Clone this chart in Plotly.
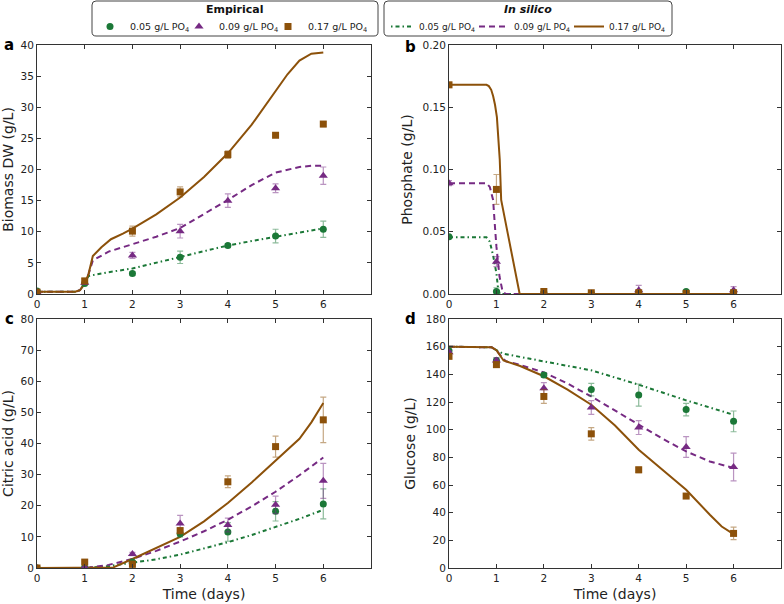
import plotly.graph_objects as go

# ---------------- data ----------------
days = [0, 1, 2, 3, 4, 5, 6]
x_tick_vals = [0, 1, 2, 3, 4, 5, 6]
series_names = ["0.05 g/L PO<sub>4</sub>", "0.09 g/L PO<sub>4</sub>", "0.17 g/L PO<sub>4</sub>"]

# Empirical: biomass (g/L)
biomass_005 = [0.5, 1.7, 3.3, 5.9, 7.8, 9.3, 10.4]
biomass_005_err = [0.1, 0.2, 0.3, 1.0, 0.3, 1.1, 1.3]
biomass_009 = [0.3, 1.8, 6.2, 10.1, 15.0, 17.0, 19.0]
biomass_009_err = [0.1, 0.2, 0.5, 1.1, 1.1, 0.7, 1.4]
biomass_017 = [0.3, 2.1, 10.1, 16.4, 22.4, 25.5, 27.3]
biomass_017_err = [0.1, 0.4, 0.8, 0.8, 0.6, 0.2, 0.4]

# Empirical: phosphate (g/L)
phosphate_005 = [0.046, 0.002, 0.001, 0.0005, 0.001, 0.002, 0.0005]
phosphate_005_err = [0.001, 0.003, 0.001, 0.0005, 0.001, 0.001, 0.0005]
phosphate_009 = [0.089, 0.026, 0.001, 0.0005, 0.003, 0.0005, 0.003]
phosphate_009_err = [0.002, 0.004, 0.001, 0.0005, 0.004, 0.0005, 0.003]
phosphate_017 = [0.168, 0.084, 0.002, 0.001, 0.001, 0.0005, 0.001]
phosphate_017_err = [0.002, 0.012, 0.002, 0.001, 0.001, 0.0005, 0.002]

# Empirical: citric acid (g/L)
citric_005 = [0, 0.2, 1.9, 11.0, 11.6, 18.2, 20.6]
citric_005_err = [0.1, 0.2, 0.5, 1.0, 3.0, 3.1, 4.8]
citric_009 = [0, 0.2, 4.5, 14.3, 13.8, 20.3, 28.0]
citric_009_err = [0.1, 0.2, 0.5, 2.6, 2.2, 2.8, 5.6]
citric_017 = [0, 1.9, 1.2, 12.0, 27.7, 39.0, 47.6]
citric_017_err = [0.1, 0.3, 1.0, 1.0, 1.9, 3.4, 7.3]

# Empirical: glucose (g/L)
glucose_005 = [157, 150, 139.5, 129, 125, 114.5, 106]
glucose_005_err = [1, 2, 1.5, 4.5, 8, 4.5, 7.5]
glucose_009 = [156, 150, 130, 116, 101.5, 87.5, 73]
glucose_009_err = [1, 2, 4, 5, 5, 7.5, 10]
glucose_017 = [153, 147, 124, 97, 71, 52, 25]
glucose_017_err = [1.5, 2, 5, 4.5, 2, 1, 4.5]

# In silico: biomass
sim_bio_t_005 = [0, 0.8, 0.9, 1.0, 1.08, 1.17, 1.5, 2.0, 2.5, 3.0, 3.5, 4.0, 4.5, 5.0, 5.5, 6.0]
sim_bio_005 = [0.35, 0.35, 0.6, 1.7, 2.9, 3.05, 3.5, 4.1, 5.0, 5.9, 6.9, 7.8, 8.5, 9.2, 9.9, 10.55]
sim_bio_t_009 = [0, 0.8, 0.9, 1.0, 1.08, 1.17, 1.5, 2.0, 2.5, 3.0, 3.5, 4.0, 4.5, 5.0, 5.5, 5.75, 6.0]
sim_bio_009 = [0.35, 0.35, 0.6, 1.7, 3.2, 5.4, 6.8, 8.0, 9.2, 10.6, 12.8, 15.1, 17.5, 19.5, 20.4, 20.6, 20.6]
sim_bio_t_017 = [0, 0.8, 0.9, 1.0, 1.08, 1.17, 1.35, 1.55, 1.8, 2.0, 2.5, 3.0, 3.5, 4.0, 4.5, 5.0, 5.25, 5.5, 5.75, 6.0]
sim_bio_017 = [0.35, 0.35, 0.6, 1.7, 3.2, 6.1, 7.5, 8.8, 9.7, 10.5, 12.8, 15.5, 18.8, 22.6, 27.2, 32.6, 35.3, 37.5, 38.6, 38.8]

# In silico: phosphate
sim_pho_t_005 = [0, 0.79, 0.86, 0.93, 1.0, 1.03, 1.07, 6.0]
sim_pho_005 = [0.0455, 0.0455, 0.042, 0.031, 0.0166, 0.006, 0, 0]
sim_pho_t_009 = [0, 0.79, 0.86, 0.93, 0.96, 1.0, 1.065, 1.13, 1.2, 6.0]
sim_pho_009 = [0.089, 0.089, 0.086, 0.0755, 0.059, 0.038, 0.014, 0.002, 0, 0]
sim_pho_t_017 = [0, 0.79, 0.84, 0.89, 0.93, 0.97, 1.01, 1.04, 1.07, 1.10, 1.49, 6.0]
sim_pho_017 = [0.168, 0.168, 0.167, 0.164, 0.159, 0.152, 0.142, 0.128, 0.108, 0.0755, 0, 0]

# In silico: citric acid
sim_cit_t = [0, 1.0, 1.5, 2.0, 2.5, 3.0, 3.5, 4.0, 4.5, 5.0, 5.5, 6.0]
sim_cit_005 = [0, 0, 0.6, 1.6, 2.8, 4.3, 6.2, 8.3, 10.6, 13.1, 15.8, 18.7]
sim_cit_009 = [0, 0, 1.0, 2.9, 5.5, 8.5, 11.8, 15.5, 19.8, 24.5, 29.8, 35.5]
sim_cit_t_017 = [0, 1.0, 1.6, 2.0, 2.5, 3.0, 3.5, 4.0, 4.5, 5.0, 5.5, 5.75, 6.0]
sim_cit_017 = [0, 0, 0.2, 2.9, 6.4, 10.0, 15.0, 20.9, 27.5, 34.4, 41.5, 46.8, 53.0]

# In silico: glucose
sim_glc_t_005 = [0, 0.8, 0.9, 1.0, 1.13, 1.5, 2.0, 3.0, 4.0, 5.0, 6.0]
sim_glc_005 = [160, 160, 159.5, 157.5, 155, 152.6, 149.4, 142.9, 132.5, 121.2, 110.8]
sim_glc_t_009 = [0, 0.8, 0.9, 1.0, 1.1, 1.2, 1.5, 2.0, 2.5, 3.0, 3.5, 4.0, 4.5, 5.0, 5.5, 6.0]
sim_glc_009 = [160, 160, 159.5, 157.5, 153, 149.4, 146.8, 141.4, 133.3, 124, 114, 103.6, 93.5, 84.3, 77, 72.3]
sim_glc_t_017 = [0, 0.8, 0.9, 1.0, 1.1, 1.15, 1.5, 2.0, 2.5, 3.0, 3.5, 4.0, 4.5, 5.0, 5.5, 5.75, 6.0]
sim_glc_017 = [160, 160, 159.5, 157.5, 153, 150, 146, 138.6, 129, 118, 103, 85.5, 71, 56.6, 38.5, 30, 24.5]

# ---------------- styles ----------------
colors = ["#1b7837", "#762a83", "#8c510a"]
err_colors = ["rgba(27,120,55,0.5)", "rgba(118,42,131,0.5)", "rgba(140,81,10,0.5)"]
symbols = ["circle", "triangle-up", "square"]
msizes = [7, 8, 7]
dashes = ["4px,3px,1.5px,3px", "6px,4px", "solid"]
FONT = "DejaVu Sans"

fig = go.Figure()

panels = [
    ("", [biomass_005, biomass_009, biomass_017], [biomass_005_err, biomass_009_err, biomass_017_err],
     [(sim_bio_t_005, sim_bio_005), (sim_bio_t_009, sim_bio_009), (sim_bio_t_017, sim_bio_017)]),
    ("2", [phosphate_005, phosphate_009, phosphate_017], [phosphate_005_err, phosphate_009_err, phosphate_017_err],
     [(sim_pho_t_005, sim_pho_005), (sim_pho_t_009, sim_pho_009), (sim_pho_t_017, sim_pho_017)]),
    ("3", [citric_005, citric_009, citric_017], [citric_005_err, citric_009_err, citric_017_err],
     [(sim_cit_t, sim_cit_005), (sim_cit_t, sim_cit_009), (sim_cit_t_017, sim_cit_017)]),
    ("4", [glucose_005, glucose_009, glucose_017], [glucose_005_err, glucose_009_err, glucose_017_err],
     [(sim_glc_t_005, sim_glc_005), (sim_glc_t_009, sim_glc_009), (sim_glc_t_017, sim_glc_017)]),
]

for pi, (suffix, emp, errs, sims) in enumerate(panels):
    xa = "x" + suffix
    ya = "y" + suffix
    for i in range(3):
        st, sv = sims[i]
        fig.add_trace(go.Scatter(
            x=st, y=sv, mode="lines", xaxis=xa, yaxis=ya,
            line=dict(color=colors[i], width=2, dash=dashes[i]),
            name=series_names[i], legend="legend2", showlegend=(pi == 0),
        ))
    for i in range(3):
        fig.add_trace(go.Scatter(
            x=days, y=emp[i], mode="markers", xaxis=xa, yaxis=ya,
            marker=dict(color=colors[i], symbol=symbols[i], size=msizes[i], line=dict(width=0)),
            error_y=dict(type="data", array=errs[i], color=err_colors[i], thickness=1.2, width=3),
            name=series_names[i], legend="legend", showlegend=(pi == 0),
        ))

W, H = 784, 604
xdom_left = [37 / W, 371 / W]
xdom_right = [449 / W, 781 / W]
ydom_top = [1 - 294 / H, 1 - 45 / H]
ydom_bot = [1 - 568 / H, 1 - 319 / H]

def xax(domain, anchor, title=None):
    d = dict(domain=domain, anchor=anchor, range=[0, 7], tickvals=x_tick_vals,
             ticks="inside", ticklen=4, tickcolor="#333", showline=True, linecolor="#333",
             linewidth=1, mirror="ticks", showgrid=False, zeroline=False,
             tickfont=dict(size=10.5, color="#222", family=FONT), automargin=False)
    if title:
        d["title"] = dict(text=title, font=dict(size=14, color="#222", family=FONT), standoff=6)
    return d

def yax(domain, anchor, rng, dtick, title, fmt=None):
    d = dict(domain=domain, anchor=anchor, range=rng, dtick=dtick, tick0=0,
             ticks="inside", ticklen=4, tickcolor="#333", showline=True, linecolor="#333",
             linewidth=1, mirror="ticks", showgrid=False, zeroline=False,
             tickfont=dict(size=10.5, color="#222", family=FONT), automargin=False,
             title=dict(text=title, font=dict(size=14, color="#222", family=FONT), standoff=6))
    if fmt:
        d["tickformat"] = fmt
    return d

# legend frames (pixel coords): left, right, top, bottom
box_emp = (92, 378, 1, 36)
box_sil = (384, 672, 1, 36)

legend_common = dict(
    orientation="h", y=1 - 12 / H, xanchor="left", yanchor="top",
    borderwidth=0, bgcolor="rgba(0,0,0,0)",
    itemwidth=30, indentation=-10, entrywidthmode="pixels",
)

fig.update_layout(
    width=W, height=H,
    margin=dict(l=0, r=0, t=0, b=0),
    paper_bgcolor="white", plot_bgcolor="white",
    font=dict(family=FONT, color="#222"),
    xaxis=xax(xdom_left, "y"),
    yaxis=yax(ydom_top, "x", [0, 40], 5, "Biomass DW (g/L)"),
    xaxis2=xax(xdom_right, "y2"),
    yaxis2=yax(ydom_top, "x2", [0, 0.2], 0.05, "Phosphate (g/L)", ".2f"),
    xaxis3=xax(xdom_left, "y3", "Time (days)"),
    yaxis3=yax(ydom_bot, "x3", [0, 80], 10, "Citric acid (g/L)"),
    xaxis4=xax(xdom_right, "y4", "Time (days)"),
    yaxis4=yax(ydom_bot, "x4", [0, 180], 20, "Glucose (g/L)"),
    legend=dict(x=(box_emp[0] + 8) / W, entrywidth=54,
                font=dict(size=9.5, family=FONT, color="#222"), **legend_common),
    legend2=dict(x=(box_sil[0] + 5) / W, entrywidth=60,
                 font=dict(size=9, family=FONT, color="#222"), **legend_common),
)

def rounded_box(l, r, t, b, rad=4):
    X = lambda v: v / W
    Y = lambda v: 1 - v / H
    return ("M %f,%f L %f,%f Q %f,%f %f,%f L %f,%f Q %f,%f %f,%f L %f,%f Q %f,%f %f,%f "
            "L %f,%f Q %f,%f %f,%f Z") % (
        X(l + rad), Y(t), X(r - rad), Y(t), X(r), Y(t), X(r), Y(t + rad),
        X(r), Y(b - rad), X(r), Y(b), X(r - rad), Y(b),
        X(l + rad), Y(b), X(l), Y(b), X(l), Y(b - rad),
        X(l), Y(t + rad), X(l), Y(t), X(l + rad), Y(t))

for bx in (box_emp, box_sil):
    fig.add_shape(type="path", path=rounded_box(*bx), xref="paper", yref="paper",
                  line=dict(color="#444", width=1), fillcolor="rgba(0,0,0,0)", layer="above")

legend_titles = [("<b>Empirical</b>", box_emp), ("<b><i>In silico</i></b>", box_sil)]
for txt, bx in legend_titles:
    fig.add_annotation(text=txt, x=(bx[0] + bx[1]) / 2 / W, y=1 - 10 / H, xref="paper", yref="paper",
                       showarrow=False, font=dict(size=11, family=FONT, color="#111"),
                       xanchor="center", yanchor="middle")

letters = [("a", 9, 45), ("b", 410, 47), ("c", 9, 319), ("d", 410, 319)]
for txt, px, py in letters:
    fig.add_annotation(text="<b>%s</b>" % txt, x=px / W, y=1 - py / H, xref="paper", yref="paper",
                       showarrow=False, font=dict(size=15, family=FONT, color="black"),
                       xanchor="center", yanchor="middle")

fig.write_html(
    "out.html",
    config={"displayModeBar": False},
    post_script="document.body.style.margin='0';document.body.style.overflow='hidden';",
)
